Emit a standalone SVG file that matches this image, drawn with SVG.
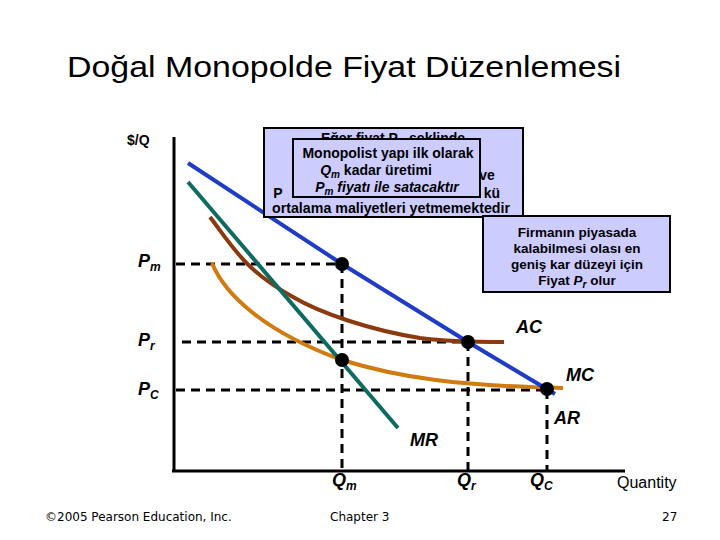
<svg xmlns="http://www.w3.org/2000/svg" width="720" height="540" viewBox="0 0 720 540">
<style>
.t{font-family:"Liberation Sans",Arial,sans-serif}
.lbl{font-family:"Liberation Sans",Arial,sans-serif;font-weight:bold;font-style:italic;font-size:18px}
.sub{font-size:12px}
.box{fill:#CCCCFF;stroke:#000;stroke-width:2}
.bt{font-family:"Liberation Sans",Arial,sans-serif;font-weight:bold;font-size:14px;text-anchor:middle}
.bt2{font-family:"Liberation Sans",Arial,sans-serif;font-weight:bold;font-size:13.5px;text-anchor:middle}
.dash{stroke:#000;stroke-width:3;stroke-dasharray:9 6;fill:none}
.foot{font-family:"DejaVu Sans",Verdana,sans-serif;font-size:12px}
.dot{fill:#000}
</style>
<rect width="720" height="540" fill="#fff"/>
<text class="t" x="67" y="77" font-size="29" textLength="554" lengthAdjust="spacingAndGlyphs">Doğal Monopolde Fiyat Düzenlemesi</text>
<text class="t" x="127" y="145" font-size="14" font-weight="bold">$/Q</text>

<g id="axes">
<line x1="174" y1="137" x2="174" y2="472" stroke="#000" stroke-width="3"/>
<line x1="172" y1="471" x2="625" y2="471" stroke="#000" stroke-width="3"/>
</g>

<g id="connectors">
<path class="dash" d="M176 264H342M182 342H468M176 390H547M342 264V470M468 342V470M547 390V470"/>
<path id="MC" d="M212 263C225 295 265 332 342 360C400 378 460 386 563 388" fill="none" stroke="#D07A10" stroke-width="4"/>
<path id="AC" d="M210 217C235 250 245 270 293 297C320 313 370 330 420 338C450 342 480 342 504 342" fill="none" stroke="#8B3A0F" stroke-width="4"/>
<line id="MR" x1="188" y1="182" x2="398" y2="428" stroke="#0E6B60" stroke-width="4"/>
<polyline id="AR" points="188,163 342,264 468,342 555,394" fill="none" stroke="#1E3CC8" stroke-width="4"/>
<circle class="dot" cx="342" cy="264" r="7"/>
<circle class="dot" cx="342" cy="360" r="7"/>
<circle class="dot" cx="468" cy="342" r="7"/>
<circle class="dot" cx="547" cy="389" r="7"/>
</g>

<g id="axis-labels">
<text class="lbl" x="138" y="267">P<tspan class="sub" dy="4">m</tspan></text>
<text class="lbl" x="138" y="346">P<tspan class="sub" dy="4">r</tspan></text>
<text class="lbl" x="138" y="395">P<tspan class="sub" dy="4">C</tspan></text>
<text class="lbl" x="332" y="486" font-size="17">Q<tspan class="sub" dy="4">m</tspan></text>
<text class="lbl" x="457" y="486" font-size="17">Q<tspan class="sub" dy="4">r</tspan></text>
<text class="lbl" x="530" y="486" font-size="17">Q<tspan class="sub" dy="4">C</tspan></text>
<text class="t" x="617" y="488" font-size="16">Quantity</text>
<text class="lbl" x="516" y="333">AC</text>
<text class="lbl" x="566" y="381">MC</text>
<text class="lbl" x="554" y="424">AR</text>
<text class="lbl" x="410" y="446">MR</text>
</g>

<g id="box-back">
<rect class="box" x="264" y="128" width="259" height="89"/>
<text class="bt" x="393" y="143">Eğer fiyat P<tspan font-style="italic" font-size="10" dy="3">C</tspan><tspan dy="-3"> şeklinde</tspan></text>
<text class="bt" x="487" y="180">ve</text>
<text class="bt" x="278" y="198">P</text>
<text class="bt" x="492" y="198">kü</text>
<text class="bt" x="391" y="213" textLength="238" lengthAdjust="spacingAndGlyphs">ortalama maliyetleri yetmemektedir</text>
</g>

<g id="box-front">
<rect class="box" x="293" y="139" width="187" height="58"/>
<text class="bt" x="388" y="158">Monopolist yapı ilk olarak</text>
<text class="bt" x="376" y="175"><tspan font-style="italic">Q</tspan><tspan font-style="italic" font-size="10" dy="3">m</tspan><tspan dy="-3"> kadar üretimi</tspan></text>
<text class="bt" x="387" y="192" font-style="italic">P<tspan font-size="10" dy="3">m</tspan><tspan dy="-3"> fiyatı ile satacaktır</tspan></text>
</g>

<g id="box-right">
<rect class="box" x="483" y="216" width="187" height="76"/>
<text class="bt2" x="577" y="237">Firmanın piyasada</text>
<text class="bt2" x="577" y="253">kalabilmesi olası en</text>
<text class="bt2" x="577" y="269">geniş kar düzeyi için</text>
<text class="bt2" x="577" y="285">Fiyat <tspan font-style="italic">P</tspan><tspan font-style="italic" font-size="10" dy="3">r</tspan><tspan dy="-3"> olur</tspan></text>
</g>

<text class="foot" x="45" y="521">©2005 Pearson Education, Inc.</text>
<text class="foot" x="330" y="521">Chapter 3</text>
<text class="foot" x="662" y="521">27</text>
</svg>
